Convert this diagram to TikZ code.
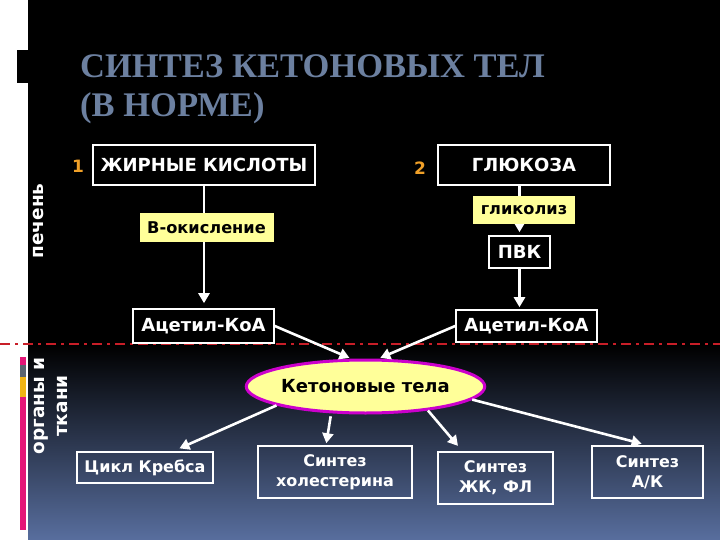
\documentclass[tikz,border=0pt]{standalone}
\usepackage{fontspec}
\setmainfont{Liberation Serif}
\setsansfont{DejaVu Sans}
\usetikzlibrary{arrows.meta, positioning, shapes.geometric, calc}
\definecolor{titleblue}{RGB}{108,128,160}
\definecolor{bgblue}{RGB}{88,110,158}
\definecolor{lightyel}{RGB}{255,255,153}
\definecolor{ketmag}{RGB}{204,0,204}
\definecolor{numorange}{RGB}{240,160,40}
\definecolor{dashred}{RGB}{200,30,40}
\definecolor{barpink}{RGB}{228,22,120}
\definecolor{bargray}{RGB}{90,100,112}
\definecolor{barorange}{RGB}{240,180,20}
\newcommand{\fsz}[1]{\fontsize{#1}{#1}\selectfont}

\begin{document}
\begin{tikzpicture}[x=1pt, y=-1pt,
  blackbox/.style={draw=white, line width=1.6pt, fill=black, text=white,
    inner sep=0pt, font=\sffamily\bfseries\fsz{18}},
  yelbox/.style={fill=lightyel, text=black, inner sep=0pt,
    font=\sffamily\bfseries\fsz{16.2}},
  tissuebox/.style={draw=white, line width=1.6pt, text=white, inner sep=0pt,
    align=center, font=\sffamily\bfseries\fontsize{16}{20}\selectfont},
  numlabel/.style={text=numorange, font=\sffamily\bfseries\fsz{17}},
  sidelabel/.style={text=white, rotate=90, align=center,
    font=\sffamily\bfseries\fontsize{18.5}{23}\selectfont},
  wline/.style={draw=white, line width=2.6pt},
  warrow/.style={wline, -{Triangle[length=10pt, width=11pt]}}]
\useasboundingbox (0,0) rectangle (720,540);
% background
\fill[white] (0,0) rectangle (28,540);
\fill[black] (28,0) rectangle (720,345);
\shade[top color=black, bottom color=bgblue] (28,345) rectangle (720,540);
\fill[black] (17,50) rectangle (28,83);
% title
\node[anchor=base west, inner sep=0pt, text=titleblue,
  font=\rmfamily\bfseries\fsz{34.5}] (title1) at (80,78) {СИНТЕЗ КЕТОНОВЫХ ТЕЛ};
\node[anchor=base west, inner sep=0pt, text=titleblue,
  font=\rmfamily\bfseries\fsz{34.5}] (title2) at (80,117) {(В НОРМЕ)};
% border liver / tissues
\draw[dashred, line width=2.2pt, dash pattern=on 10pt off 5pt on 3pt off 5pt]
  (0,344) -- (720,344);
\fill[barpink] (20,357) rectangle (26,365);
\fill[bargray] (20,365) rectangle (26,377);
\fill[barorange] (20,377) rectangle (26,397);
\fill[barpink] (20,397) rectangle (26,530);
\node[sidelabel] (liver) at (38,221) {печень};
\node[sidelabel] (organs) at (51,406) {органы и\\ткани};
% path 1: fatty acids
\node[numlabel] (n1) at (78,166) {1};
\node[blackbox, minimum width=222pt, minimum height=40pt] (fa) at (204,165) {ЖИРНЫЕ КИСЛОТЫ};
\node[blackbox, minimum width=141pt, minimum height=34pt] (acl) at (203.5,326) {Ацетил-КоА};
\draw[warrow, shorten >=5pt] (fa.south) -- (fa.south |- acl.north);
\node[yelbox, minimum width=134pt, minimum height=29pt] (ox) at (206.5,227.5) {В-окисление};
% path 2: glucose
\node[numlabel] (n2) at (420,168) {2};
\node[blackbox, minimum width=172pt, minimum height=40pt] (glu) at (524,165) {ГЛЮКОЗА};
\node[blackbox, minimum width=61pt, minimum height=32pt] (pvk) at (519.5,252) {ПВК};
\node[blackbox, minimum width=141pt, minimum height=32pt] (acr) at (526.5,326) {Ацетил-КоА};
\draw[warrow, shorten >=3pt] (glu.south -| pvk.north) -- (pvk.north);
\draw[warrow, shorten >=2pt] (pvk.south) -- (pvk.south |- acr.north);
\node[yelbox, minimum width=102pt, minimum height=28pt] (glyc) at (524,210) {гликолиз};
% ketone bodies
\node[ellipse, draw=ketmag, line width=3pt, fill=lightyel, inner sep=0pt,
  minimum width=205pt, minimum height=53pt,
  font=\sffamily\bfseries\fsz{18}] (kt) at (365.5,386.5) {Кетоновые тела};
\draw[warrow, shorten >=2pt] (acl.east) -- (kt.117);
\draw[warrow, shorten >=2pt] (acr.west) -- (kt.65);
% use in tissues
\node[tissuebox, minimum width=136pt, minimum height=31pt] (krebs) at (145,467.5) {Цикл Кребса};
\node[tissuebox, minimum width=154pt, minimum height=52pt] (chol) at (335,472) {Синтез\\холестерина};
\node[tissuebox, minimum width=115pt, minimum height=52pt] (fl) at (495.5,478) {Синтез\\ЖК, ФЛ};
\node[tissuebox, minimum width=111pt, minimum height=52pt] (ak) at (647.5,472) {Синтез\\А/К};
\draw[warrow, shorten >=7pt] (kt.192) -- ([xshift=28pt]krebs.north);
\draw[warrow, shorten <=3pt, shorten >=2pt] (kt.218) -- ([xshift=-9pt]chol.north);
\draw[warrow, shorten >=7pt] (kt.-21) -- ([xshift=-33pt]fl.north);
\draw[warrow, shorten >=6pt] (kt.-7) -- (ak.north);
\end{tikzpicture}
\end{document}
